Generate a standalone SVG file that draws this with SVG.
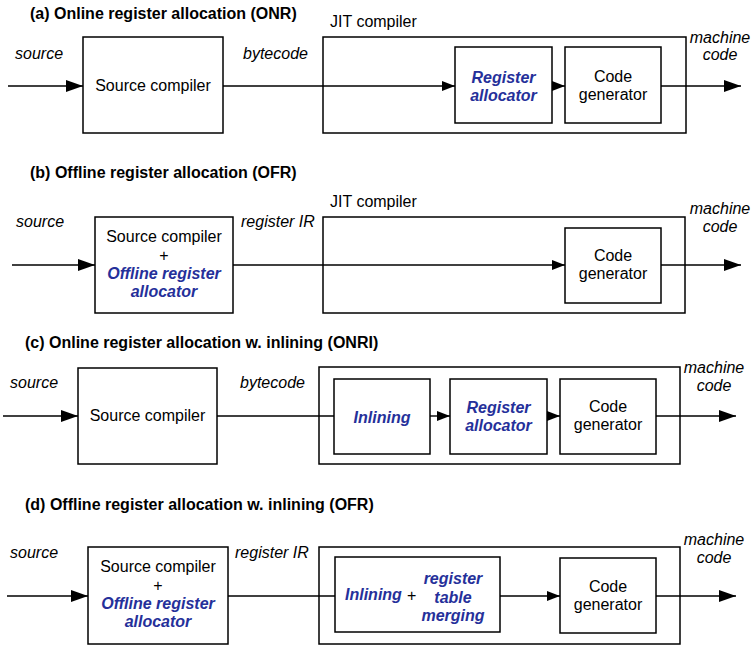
<svg xmlns="http://www.w3.org/2000/svg" width="752" height="647" viewBox="0 0 752 647">
<defs>
<marker id="big" markerUnits="userSpaceOnUse" markerWidth="17" markerHeight="12" refX="17" refY="6" orient="auto"><path d="M0,0 L17,6 L0,12 z" fill="#000"/></marker>
<marker id="small" markerUnits="userSpaceOnUse" markerWidth="13" markerHeight="10" refX="13" refY="5" orient="auto"><path d="M0,0 L13,5 L0,10 z" fill="#000"/></marker>
<style>
text{font-family:"Liberation Sans",Arial,Helvetica,sans-serif;font-size:16px;fill:#000}
.t{font-weight:bold}
.i{font-style:italic}
.b{font-weight:bold;font-style:italic;fill:#25309a}
.m{text-anchor:middle}
rect{fill:#fff;stroke:#000;stroke-width:1.5}
line{stroke:#000;stroke-width:1.4}
.a{marker-end:url(#big)}
.s{marker-end:url(#small)}
</style>
</defs>
<rect x="0" y="0" width="752" height="647" style="stroke:none;fill:#fff"/>

<!-- (a) -->
<text class="t" x="30" y="19">(a) Online register allocation (ONR)</text>
<text class="i" x="15" y="59">source</text>
<text class="i" x="243" y="59">bytecode</text>
<text x="330" y="27">JIT compiler</text>
<text class="i m" x="720" y="43">machine</text>
<text class="i m" x="720" y="60">code</text>
<g id="a_jit"><rect x="323" y="37" width="363" height="96"/></g>
<g id="a_src"><rect x="83" y="37" width="140" height="96"/><text class="m" x="153" y="91">Source compiler</text></g>
<g id="a_reg"><rect x="455" y="47" width="97" height="76"/><text class="b m" x="503.5" y="83">Register</text><text class="b m" x="503.5" y="101">allocator</text></g>
<g id="a_code"><rect x="565" y="47" width="96" height="76"/><text class="m" x="613" y="82">Code</text><text class="m" x="613" y="100">generator</text></g>

<!-- (b) -->
<text class="t" x="30" y="178">(b) Offline register allocation (OFR)</text>
<text class="i" x="16" y="227">source</text>
<text class="i" x="241" y="227">register IR</text>
<text x="330" y="207">JIT compiler</text>
<text class="i m" x="720" y="214">machine</text>
<text class="i m" x="720" y="232">code</text>
<g id="b_jit"><rect x="323" y="217" width="362" height="96"/></g>
<g id="b_src"><rect x="95" y="217" width="138" height="96"/><text class="m" x="164" y="242">Source compiler</text><text class="m" x="164" y="261">+</text><text class="b m" x="164" y="279">Offline register</text><text class="b m" x="164" y="297">allocator</text></g>
<g id="b_code"><rect x="565" y="228" width="96" height="75"/><text class="m" x="613" y="261">Code</text><text class="m" x="613" y="279">generator</text></g>

<!-- (c) -->
<text class="t" x="25" y="348">(c) Online register allocation w. inlining (ONRI)</text>
<text class="i" x="10" y="388">source</text>
<text class="i" x="240" y="388">bytecode</text>
<text class="i m" x="714" y="373">machine</text>
<text class="i m" x="714" y="391">code</text>
<g id="c_jit"><rect x="319" y="367" width="361" height="97"/></g>
<g id="c_src"><rect x="78" y="368" width="139" height="96"/><text class="m" x="147.5" y="421">Source compiler</text></g>
<g id="c_inl"><rect x="334" y="379" width="96" height="75"/><text class="b m" x="382" y="423">Inlining</text></g>
<g id="c_reg"><rect x="450" y="379" width="97" height="75"/><text class="b m" x="498.5" y="413">Register</text><text class="b m" x="498.5" y="431">allocator</text></g>
<g id="c_code"><rect x="560" y="379" width="96" height="75"/><text class="m" x="608" y="412">Code</text><text class="m" x="608" y="430">generator</text></g>

<!-- (d) -->
<text class="t" x="25" y="510">(d) Offline register allocation w. inlining (OFR)</text>
<text class="i" x="10" y="558">source</text>
<text class="i" x="235" y="558">register IR</text>
<text class="i m" x="714" y="545">machine</text>
<text class="i m" x="714" y="563">code</text>
<g id="d_jit"><rect x="319" y="547" width="361" height="97"/></g>
<g id="d_src"><rect x="88" y="547" width="140" height="97"/><text class="m" x="158" y="572">Source compiler</text><text class="m" x="158" y="591">+</text><text class="b m" x="158" y="609">Offline register</text><text class="b m" x="158" y="627">allocator</text></g>
<g id="d_inl"><rect x="335" y="557" width="165" height="75"/><text class="b" x="345" y="600">Inlining</text><text x="407" y="601">+</text><text class="b m" x="453" y="584">register</text><text class="b m" x="453" y="603">table</text><text class="b m" x="453" y="621">merging</text></g>
<g id="d_code"><rect x="560" y="558" width="96" height="75"/><text class="m" x="608" y="592">Code</text><text class="m" x="608" y="610">generator</text></g>

<g id="connectors">
<line class="a" x1="8" y1="86" x2="83" y2="86"/>
<line class="s" x1="223" y1="86" x2="455" y2="86"/>
<line class="s" x1="552" y1="86" x2="565" y2="86"/>
<line class="a" x1="661" y1="86" x2="741" y2="86"/>

<line class="a" x1="12" y1="265" x2="95" y2="265"/>
<line class="s" x1="233" y1="265" x2="565" y2="265"/>
<line class="a" x1="661" y1="265" x2="741" y2="265"/>

<line class="a" x1="3" y1="416" x2="78" y2="416"/>
<line x1="217" y1="416" x2="334" y2="416"/>
<line class="s" x1="430" y1="416" x2="450" y2="416"/>
<line class="s" x1="547" y1="416" x2="560" y2="416"/>
<line class="a" x1="656" y1="416" x2="736" y2="416"/>

<line class="a" x1="7" y1="596" x2="88" y2="596"/>
<line x1="228" y1="596" x2="335" y2="596"/>
<line class="s" x1="500" y1="596" x2="560" y2="596"/>
<line class="a" x1="656" y1="596" x2="736" y2="596"/>
</g>
</svg>
